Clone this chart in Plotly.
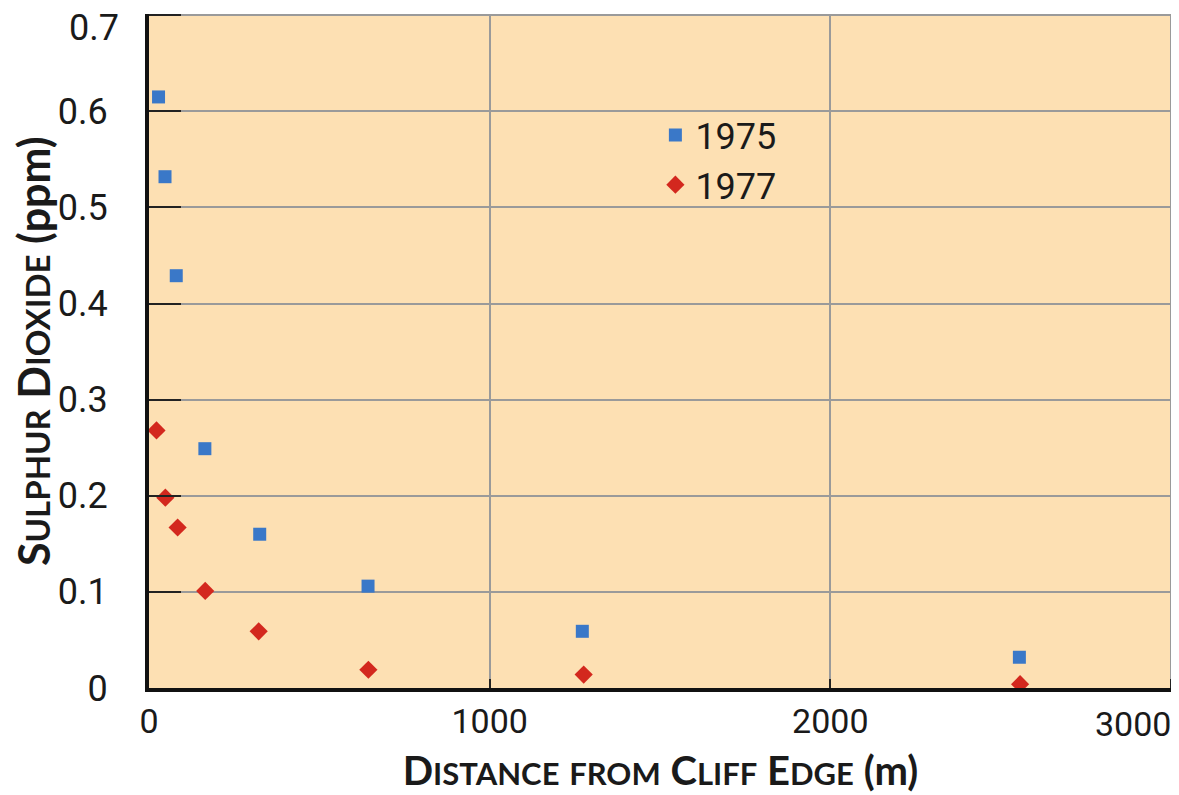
import plotly.graph_objects as go

# Data
dist_1975 = [28, 47, 80, 164, 325, 643, 1272, 2555]
so2_1975 = [0.615, 0.532, 0.429, 0.249, 0.160, 0.106, 0.059, 0.032]
dist_1977 = [22, 48, 84, 165, 322, 644, 1276, 2557]
so2_1977 = [0.268, 0.198, 0.167, 0.101, 0.059, 0.019, 0.014, 0.004]
series_names = ["1975", "1977"]
x_ticks = [0, 1000, 2000, 3000]
x_tick_text = ["0", "1000", "2000", "3000"]
y_ticks = [0, 0.1, 0.2, 0.3, 0.4, 0.5, 0.6, 0.7]
y_tick_text = ["0", "0.1", "0.2", "0.3", "0.4", "0.5", "0.6", "0.7"]

TICKFONT = "Roboto, Liberation Sans, sans-serif"
TITLEFONT = "Lato, Roboto, sans-serif"

def smallcaps(words, big, small):
    out = []
    for w in words:
        if w.startswith("("):
            out.append(f"<span style='font-size:{big}px'>{w}</span>")
        elif w.islower():
            out.append(f"<span style='font-size:{small}px'>{w.upper()}</span>")
        else:
            out.append(f"<span style='font-size:{big}px'>{w[0]}</span>"
                       f"<span style='font-size:{small}px'>{w[1:]}</span>")
    return " ".join(out)

fig = go.Figure()
fig.add_trace(go.Scatter(
    x=dist_1975, y=so2_1975, mode="markers", name=series_names[0],
    marker=dict(symbol="square", size=13, color="#3a78c8"),
))
fig.add_trace(go.Scatter(
    x=dist_1977, y=so2_1977, mode="markers", name=series_names[1],
    marker=dict(symbol="diamond", size=14, color="#d3281e"),
))

# end tick labels drawn as annotations so they stay inside the page
x_text = x_tick_text[:-1] + [""]
y_text = y_tick_text[:-1] + [""]
fig.add_annotation(x=x_ticks[-1], y=0, xref="x", yref="paper",
                   text=x_tick_text[-1], showarrow=False,
                   xanchor="right", yanchor="top", xshift=2, yshift=-14,
                   font=dict(size=34, family=TICKFONT, color="#1a1a1a"))
fig.add_annotation(x=0, y=y_ticks[-1], xref="paper", yref="y",
                   text=y_tick_text[-1], showarrow=False,
                   xanchor="right", yanchor="top", xshift=-28, yshift=10,
                   font=dict(size=36, family=TICKFONT, color="#1a1a1a"))
# y-axis title
fig.add_annotation(x=0, y=0.5, xref="paper", yref="paper",
                   text="<b>" + smallcaps(["SULPHUR", "DIOXIDE", "(ppm)"], 43, 33) + "</b>",
                   textangle=-90, showarrow=False,
                   xanchor="center", yanchor="middle", xshift=-116,
                   font=dict(size=43, family=TITLEFONT, color="#1a1a1a"))

fig.update_layout(
    width=1179, height=795,
    margin=dict(l=141, r=15, t=6, b=115, autoexpand=False),
    paper_bgcolor="white",
    plot_bgcolor="#fde0b3",
    font=dict(family=TICKFONT, size=36, color="#1a1a1a"),
    showlegend=True,
    legend=dict(x=0.495, y=0.865, xanchor="left", yanchor="top",
                bgcolor="rgba(0,0,0,0)", font=dict(size=36, family=TICKFONT),
                tracegroupgap=0),
)
fig.update_xaxes(
    range=[0, 3003], tickvals=x_ticks, ticktext=x_text,
    showgrid=True, gridcolor="#9a9a9a", gridwidth=2,
    showline=True, linecolor="#111", linewidth=4,
    ticks="inside", ticklen=9, tickwidth=2, tickcolor="#222",
    zeroline=False,
    tickfont=dict(size=34, family=TICKFONT),
    title=dict(text="<b>" + smallcaps(["DISTANCE", "from", "CLIFF", "EDGE", "(m)"], 40, 31) + "</b>",
               font=dict(size=40, family=TITLEFONT), standoff=18),
)
fig.update_yaxes(
    range=[0, 0.7013], tickvals=y_ticks, ticktext=y_text,
    showgrid=True, gridcolor="#9a9a9a", gridwidth=2,
    showline=True, linecolor="#111", linewidth=4,
    ticks="inside", ticklen=32, tickwidth=2, tickcolor="#222",
    zeroline=False,
    ticklabelstandoff=30,
    tickfont=dict(size=36, family=TICKFONT),
)

fig.write_html("out.html")
